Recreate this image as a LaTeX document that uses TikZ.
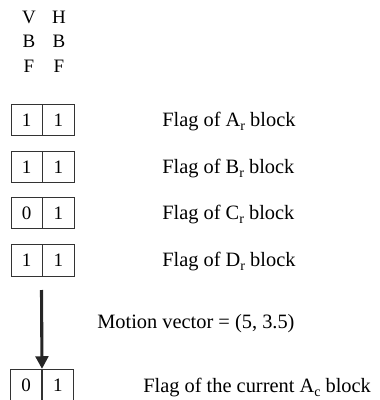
\documentclass[tikz,border=0pt]{standalone}
\usepackage{fontspec}
\setmainfont{Liberation Serif}
\usepackage{tikz}
\usetikzlibrary{arrows.meta}
\newcommand{\lowsub}[1]{\raisebox{-2.8pt}{\fontsize{10}{10}\selectfont #1}}
\tikzset{
  cell/.style={draw=black!80, line width=0.7pt, minimum width=0.775cm, minimum height=0.78cm, inner sep=0pt, font=\fontsize{13.5}{15}\selectfont},
  head/.style={font=\fontsize{13.5}{15}\selectfont, inner sep=0pt},
  flagtext/.style={anchor=west, inner sep=0pt, font=\fontsize{14.5}{17}\selectfont}
}
\begin{document}
\begin{tikzpicture}[x=0.025cm, y=-0.025cm]
\useasboundingbox (0,0) rectangle (380,400);
%%%%%column headers
\node[head] (v1) at (29,17) {V};
\node[head] (h1) at (59,17) {H};
\node[head] (v2) at (29,41) {B};
\node[head] (h2) at (59,41) {B};
\node[head] (v3) at (29,66) {F};
\node[head] (h3) at (59,66) {F};
%%%%%flag pairs
\node[cell] (a1) at (26.5,120) {1};
\node[cell, anchor=west] (a2) at (a1.east) {1};
\node[cell] (b1) at (26.5,167) {1};
\node[cell, anchor=west] (b2) at (b1.east) {1};
\node[cell] (c1) at (26.5,213) {0};
\node[cell, anchor=west] (c2) at (c1.east) {1};
\node[cell] (d1) at (26.5,260.5) {1};
\node[cell, anchor=west] (d2) at (d1.east) {1};
\node[cell] (e1) at (26,385) {0};
\node[cell, anchor=west] (e2) at (e1.east) {1};
%%%%%labels
\node[flagtext] (la) at (162,122) {Flag of A\lowsub{r} block};
\node[flagtext] (lb) at (162,169) {Flag of B\lowsub{r} block};
\node[flagtext] (lc) at (162,215) {Flag of C\lowsub{r} block};
\node[flagtext] (ld) at (162,262) {Flag of D\lowsub{r} block};
\node[flagtext] (mv) at (97,324) {Motion vector = (5, 3.5)};
\node[flagtext] (le) at (143,388) {Flag of the current A\lowsub{c} block};
%%%%%motion arrow
\coordinate (mvtop) at (41.5,290);
\draw[line width=2.2pt, -{Triangle[width=9pt,length=9pt]}, black!85] (mvtop) -- (e1.north east);
\end{tikzpicture}
\end{document}
